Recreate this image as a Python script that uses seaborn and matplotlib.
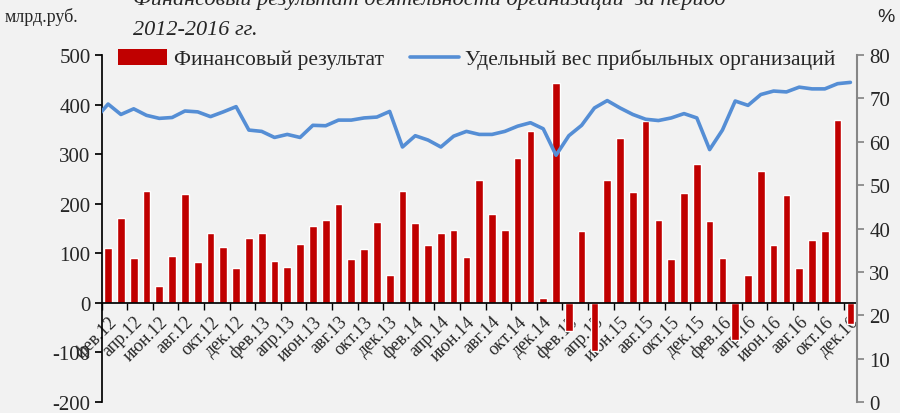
import numpy as np
import pandas as pd
import matplotlib
matplotlib.use("Agg")
import matplotlib.pyplot as plt
import seaborn as sns
from matplotlib.patches import Patch
from matplotlib.lines import Line2D

# --- DATA ---
# financial result, bn rub, Feb 2012 .. Dec 2016 (59 months)
profit = [110, 171, 90, 226, 34, 94, 220, 83, 141, 112, 70,
          130, 140, 84, 72, 119, 156, 167, 200, 88, 108, 163, 56,
          226, 161, 117, 140, 147, 92, 247, 180, 148, 293, 347, 9,
          444, -56, 146, -98, 247, 333, 224, 367, 168, 89, 222, 281,
          166, 90, -75, 56, 267, 117, 217, 71, 126, 144, 368, -43]

# share of profitable organisations, %, Jan 2012 .. Dec 2016 (60 months)
share = [65.3, 68.7, 66.3, 67.6, 66.1, 65.4, 65.6, 67.1, 66.9, 65.8, 66.9, 68.1,
         62.7, 62.4, 61.0, 61.7, 61.0, 63.8, 63.7, 65.0, 65.0, 65.5, 65.7, 67.0,
         58.8, 61.4, 60.4, 58.8, 61.3, 62.4, 61.7, 61.7, 62.4, 63.6, 64.4, 63.0,
         56.9, 61.4, 63.8, 67.8, 69.5, 67.8, 66.3, 65.2, 64.9, 65.5, 66.5, 65.5,
         58.2, 62.7, 69.4, 68.4, 70.9, 71.7, 71.5, 72.6, 72.2, 72.2, 73.4, 73.7]

tick_labels = ["фев.12", "апр.12", "июн.12", "авг.12", "окт.12", "дек.12",
               "фев.13", "апр.13", "июн.13", "авг.13", "окт.13", "дек.13",
               "фев.14", "апр.14", "июн.14", "авг.14", "окт.14", "дек.14",
               "фев.15", "апр.15", "июн.15", "авг.15", "окт.15", "дек.15",
               "фев.16", "апр.16", "июн.16", "авг.16", "окт.16", "дек.16"]

bar_label = "Финансовый результат"
line_label = "Удельный вес прибыльных организаций"

BG = "#f2f2f2"
RED = "#c00000"
BLUE = "#558ed5"
SERIF = ["Liberation Serif", "DejaVu Serif"]

sns.set_theme(style="white")
plt.rcParams["font.family"] = SERIF
plt.rcParams["axes.unicode_minus"] = False

bars_df = pd.DataFrame({"pos": np.arange(len(profit)), "value": profit})
line_df = pd.DataFrame({"pos": np.arange(len(share)) - 1, "value": share})

fig = plt.figure(figsize=(9, 4.14), dpi=100, facecolor=BG)
ax = fig.add_axes([0.113, 0.0266, 0.839, 0.838])
ax.set_facecolor(BG)

sns.barplot(data=bars_df, x="pos", y="value", native_scale=True, color=RED,
            saturation=1, width=0.6, ax=ax)

ax2 = ax.twinx()
ax2.patch.set_visible(False)
sns.lineplot(data=line_df, x="pos", y="value", color=BLUE, lw=2.6, ax=ax2)

# left axis
ax.set_ylim(-200, 500)
ax.set_yticks(np.arange(-200, 501, 100))
ax.set_xlim(-0.5, len(profit) - 0.5)
ax.set_xlabel("")
ax.set_ylabel("")
for s in ["top", "right"]:
    ax.spines[s].set_visible(False)
ax.spines["left"].set_color("black")
ax.spines["bottom"].set_color("black")
ax.spines["bottom"].set_position(("data", 0))
ax.tick_params(axis="y", left=True, length=5, color="black", labelsize=15,
               pad=3)

# category axis: labels every other month, ticks on boundaries
ax.set_xticks(np.arange(0, len(profit), 2))
ax.set_xticklabels(tick_labels, rotation=45, ha="right", va="top",
                   rotation_mode="anchor")
ax.set_xticks(np.arange(-0.5, len(profit), 2), minor=True)
ax.tick_params(axis="x", which="major", length=0, labelsize=13, pad=7)
ax.tick_params(axis="x", which="minor", bottom=True, length=5, color="black")

# right axis
ax2.set_ylim(0, 80)
ax2.set_yticks(np.arange(0, 81, 10))
ax2.set_ylabel("")
ax2.set_xlim(-0.5, len(profit) - 0.5)
for s in ["top", "left", "bottom"]:
    ax2.spines[s].set_visible(False)
ax2.spines["right"].set_color("#868686")
ax2.spines["right"].set_linewidth(1.5)
ax2.tick_params(axis="y", right=True, length=5, color="#868686",
                labelsize=15, pad=4)

handles = [Patch(facecolor=RED, edgecolor="none"),
           Line2D([], [], color=BLUE, lw=2.6)]
fig.legend(handles, [bar_label, line_label], ncol=2, frameon=False,
           loc="center left", bbox_to_anchor=(0.126, 1 - 60 / 414),
           fontsize=15.5, handlelength=2.3, handleheight=0.75,
           columnspacing=1.2, handletextpad=0.3, borderpad=0.2,
           borderaxespad=0)

# titles and units
fig.text(133 / 900, 1 - 5 / 414,
         "Финансовый результат деятельности организаций  за период",
         fontsize=16, style="italic", va="baseline", ha="left")
fig.text(133 / 900, 1 - 35 / 414, "2012-2016 гг.",
         fontsize=16, style="italic", va="baseline", ha="left")
fig.text(5 / 900, 1 - 22 / 414, "млрд.руб.", fontsize=13,
         va="baseline", ha="left")
fig.text(895 / 900, 1 - 22 / 414, "%", fontsize=14, va="baseline",
         ha="right", family=["Liberation Sans", "DejaVu Sans"])

fig.savefig("out.png", dpi=100, facecolor=BG)
